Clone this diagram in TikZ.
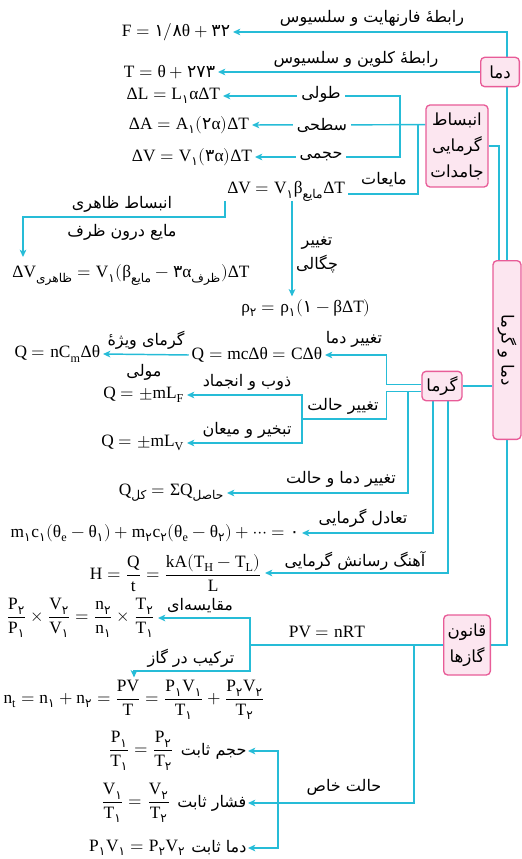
\documentclass[tikz,border=0pt]{standalone}
\usepackage{graphicx}
\usepackage{amsmath}
\usepackage[math-style=upright]{unicode-math}
\setmathfont{Latin Modern Math}
\setmathfont{Liberation Serif}[range={up/{Latin,latin,Greek,greek}}]
\setmainfont{Liberation Serif}
\newfontfamily\persianfont[Script=Arabic]{DejaVu Sans}
\TeXXeTstate=1
\usetikzlibrary{arrows.meta,positioning,backgrounds}

\definecolor{linecyan}{RGB}{38,188,215}
\definecolor{boxpink}{RGB}{232,92,152}
\definecolor{boxfill}{RGB}{252,230,240}

\newcommand\fatxt[1]{{\persianfont\beginR#1\endR}}
\newcommand\pd[1]{\text{\persianfont#1}}
\newcommand\fsub[1]{\text{\persianfont\beginR#1\endR}}

\begin{document}
\begin{tikzpicture}[x=0.75pt, y=-0.75pt,
  topic/.style = {rectangle, draw=boxpink, fill=boxfill, line width=1pt,
                  rounded corners=3pt, align=center, inner sep=1pt,
                  font=\fontsize{12.5}{19.5}\selectfont},
  frm/.style   = {inner sep=2pt, font=\fontsize{13}{15}\selectfont},
  lbl/.style   = {inner sep=1pt, align=center, font=\fontsize{12}{18}\selectfont},
  onln/.style  = {lbl, fill=white, inner xsep=3pt},
  conn/.style  = {draw=linecyan, line width=1.1pt},
  arr/.style   = {conn, -{Stealth[length=5.5pt,width=5pt,inset=1.5pt]}}
]
\useasboundingbox (0,0) rectangle (521,859);

% -- Main topic --
\node[topic, minimum width=21pt, minimum height=134pt] (main) at (507,350)
     {\rotatebox{-90}{\fatxt{دما و گرما}}};

% -- Temperature --
\node[topic, minimum width=29pt, minimum height=22pt] (dama) at (500,72) {\fatxt{دما}};
\node[frm, anchor=east] (fahr) at (233,32) {$F=\pd{۱}/\pd{۸}\theta+\pd{۳۲}$};
\node[frm, anchor=east] (kelv) at (218,72) {$T=\theta+\pd{۲۷۳}$};
\node[lbl] (fahrl) at (372,18) {\fatxt{رابطهٔ فارنهایت و سلسیوس}};
\node[lbl] (kelvl) at (356,59) {\fatxt{رابطهٔ کلوین و سلسیوس}};

% -- Thermal expansion --
\node[topic, minimum width=46.5pt, minimum height=61.5pt] (anb) at (457,146)
     {\fatxt{انبساط}\\\fatxt{گرمایی}\\\fatxt{جامدات}};
\node[frm, anchor=east] (lenF)  at (223,96)  {$\Delta L=L_{\pd{۱}}\alpha\Delta T$};
\node[frm, anchor=east] (areaF) at (252,125) {$\Delta A=A_{\pd{۱}}(\pd{۲}\alpha)\Delta T$};
\node[frm, anchor=east] (volF)  at (255,157) {$\Delta V=V_{\pd{۱}}(\pd{۳}\alpha)\Delta T$};
\node[frm, anchor=base east] (liqF) at (348,194)
     {$\Delta V=V_{\pd{۱}}\beta_{\fsub{مایع}}\Delta T$};
\node[frm] (appF) at (131,275)
     {$\Delta V_{\fsub{ظاهری}}=V_{\pd{۱}}(\beta_{\fsub{مایع}}-\pd{۳}\alpha_{\fsub{ظرف}})\Delta T$};
\node[frm] (rhoF) at (306,308) {$\rho_{\pd{۲}}=\rho_{\pd{۱}}(\pd{۱}-\beta\Delta T)$};

\node[onln] (lenl)  at (321,94)  {\fatxt{طولی}};
\node[onln] (areal) at (322,125) {\fatxt{سطحی}};
\node[onln] (voll)  at (321,156) {\fatxt{حجمی}};
\node[lbl]  (liql)  at (384,180) {\fatxt{مایعات}};
\node[lbl]  (appl1) at (122,204) {\fatxt{انبساط ظاهری}};
\node[lbl]  (appl2) at (122,232) {\fatxt{مایع درون ظرف}};
\node[lbl]  (densl) at (317,255) {\fatxt{تغییر}\\\fatxt{چگالی}};

\coordinate (jLen) at (400,125);
\coordinate (jLiq) at (418,125);
\coordinate (appOut) at (225,201);
\coordinate (appIn)  at (23,257);
\coordinate (rhoOut) at (292,201);

% -- Heat --
\node[topic, minimum width=30pt, minimum height=22pt] (garma) at (442,386) {\fatxt{گرما}};
\node[frm, anchor=east] (heatF) at (325,355) {$Q=mc\Delta\theta=C\Delta\theta$};
\node[frm, anchor=east] (molF)  at (103,354) {$Q=nC_m\Delta\theta$};
\node[frm, anchor=east] (fusF)  at (187,395) {$Q=\pm mL_F$};
\node[frm, anchor=east] (vapF)  at (187,443) {$Q=\pm mL_V$};
\node[frm, anchor=east] (sumF)  at (227,493) {$Q_{\fsub{کل}}=\Sigma Q_{\fsub{حاصل}}$};
\node[frm, anchor=east] (eqF)   at (302,533)
     {$m_{\pd{۱}}c_{\pd{۱}}(\theta_e-\theta_{\pd{۱}})+m_{\pd{۲}}c_{\pd{۲}}(\theta_e-\theta_{\pd{۲}})+\cdots=\pd{۰}$};
\node[frm, anchor=east] (condF) at (265,573) {$H=\dfrac{Q}{t}=\dfrac{kA(T_H-T_L)}{L}$};

\node[lbl] (heatl) at (354,339) {\fatxt{تغییر دما}};
\node[lbl] (moll1) at (146,340) {\fatxt{گرمای ویژهٔ}};
\node[lbl] (moll2) at (144,372) {\fatxt{مولی}};
\node[lbl] (fusl)  at (247,382) {\fatxt{ذوب و انجماد}};
\node[lbl] (phasel) at (343,406) {\fatxt{تغییر حالت}};
\node[lbl] (vapl)  at (247,430) {\fatxt{تبخیر و میعان}};
\node[lbl] (suml)  at (341,479) {\fatxt{تغییر دما و حالت}};
\node[lbl] (eql)   at (363,518) {\fatxt{تعادل گرمایی}};
\node[lbl] (condl) at (355,561) {\fatxt{آهنگ رسانش گرمایی}};

\coordinate (jPhase) at (302,419);

% -- Gas laws --
\node[topic, minimum width=35pt, minimum height=45pt] (gas) at (467,645)
     {\fatxt{قانون}\\\fatxt{گازها}};
\node[frm, anchor=east] (compF) at (158,618)
     {$\dfrac{P_{\pd{۲}}}{P_{\pd{۱}}}\times\dfrac{V_{\pd{۲}}}{V_{\pd{۱}}}=\dfrac{n_{\pd{۲}}}{n_{\pd{۱}}}\times\dfrac{T_{\pd{۲}}}{T_{\pd{۱}}}$};
\node[frm] (mixF) at (134,700)
     {$n_t=n_{\pd{۱}}+n_{\pd{۲}}=\dfrac{PV}{T}=\dfrac{P_{\pd{۱}}V_{\pd{۱}}}{T_{\pd{۱}}}+\dfrac{P_{\pd{۲}}V_{\pd{۲}}}{T_{\pd{۲}}}$};
\node[lbl, anchor=east] (isoVl) at (248,751) {\fatxt{حجم ثابت}};
\node[lbl, anchor=east] (isoPl) at (248,803) {\fatxt{فشار ثابت}};
\node[lbl, anchor=east] (isoTl) at (248,848) {\fatxt{دما ثابت}};
\node[frm, left=2pt of isoVl] (isoV) {$\dfrac{P_{\pd{۱}}}{T_{\pd{۱}}}=\dfrac{P_{\pd{۲}}}{T_{\pd{۲}}}$};
\node[frm, left=2pt of isoPl] (isoP) {$\dfrac{V_{\pd{۱}}}{T_{\pd{۱}}}=\dfrac{V_{\pd{۲}}}{T_{\pd{۲}}}$};
\node[frm, left=1pt of isoTl] (isoT) {$P_{\pd{۱}}V_{\pd{۱}}=P_{\pd{۲}}V_{\pd{۲}}$};

\node[frm] (idealF) at (327,632) {$PV=nRT$};
\node[lbl] (compl)  at (200,606) {\fatxt{مقایسه‌ای}};
\node[lbl] (mixl)   at (191,658) {\fatxt{ترکیب در گاز}};
\node[lbl] (specl)  at (344,787) {\fatxt{حالت خاص}};

\coordinate (jGas)  at (250,645);
\coordinate (jSpec) at (414,645);
\coordinate (jIso)  at (278,803);

% -- Connectors --
\begin{scope}[on background layer]
  \draw[arr]  (main.north) |- (fahr.east);
  \draw[arr]  (dama.west) -- (kelv.east);
  \draw[conn] (anb.east) -| ([xshift=-6pt]main.north);
  \draw[arr]  ([yshift=16pt]anb.west) -- (areaF.east);
  \draw[arr]  (jLen) |- (lenF.east);
  \draw[arr]  (jLen) |- (volF.east);
  \draw[conn] (jLiq) |- (liqF.base east);
  \draw[arr]  (appOut) -- ++(0,16) -| (appIn);
  \draw[arr]  (rhoOut) -- (rhoOut |- rhoF.north);

  \draw[conn] (garma.east) -- (main.west |- garma.east);
  \draw[arr]  ([yshift=1pt]garma.west) -- ++(-35,0) |- (heatF.east);
  \draw[arr]  (heatF.west) -- (molF.east);
  \draw[conn] ([yshift=-4pt]garma.west) -- ++(-35,0) |- (jPhase);
  \draw[arr]  (jPhase) |- (fusF.east);
  \draw[arr]  (jPhase) |- (vapF.east);
  \draw[arr]  ([xshift=-10pt,yshift=-4pt]garma.west) |- (sumF.east);
  \draw[arr]  ([xshift=-6.75pt]garma.south) |- (eqF.east);
  \draw[arr]  ([xshift=4.5pt]garma.south) |- (condF.east);

  \draw[conn] (gas.east) -| (main.south);
  \draw[conn] (gas.west) -- (jGas);
  \draw[arr]  (jGas) |- (compF.east);
  \draw[arr]  (jGas) -- ++(0,26) -| (mixF.north);
  \draw[arr]  (jSpec) |- (isoPl.east);
  \draw[arr]  (jIso) |- (isoVl.east);
  \draw[arr]  (jIso) |- (isoTl.east);
\end{scope}

\end{tikzpicture}
\end{document}
